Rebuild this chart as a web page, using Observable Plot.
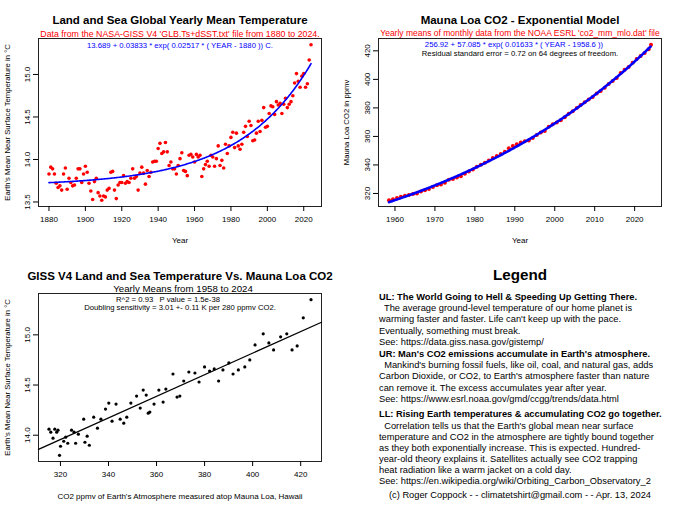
<!DOCTYPE html>
<html>
<head>
<meta charset="utf-8">
<script src="https://cdn.jsdelivr.net/npm/d3@7"></script>
<script src="https://cdn.jsdelivr.net/npm/@observablehq/plot@0.6"></script>
<style>
  html, body { margin: 0; padding: 0; background: #fff; }
  #wrap { position: relative; width: 680px; height: 510px; font-family: "Liberation Sans", Arial, Helvetica, sans-serif; color: #000; }
  .panel { position: absolute; width: 340px; height: 255px; }
  .panel svg { display: block; }
  .ln { position: absolute; left: 39px; white-space: pre; font-size: 9.3px; line-height: 11px; height: 11px; }
  .hd { font-weight: bold; }
  .ctr { left: 0; width: 360px; text-align: center; }
</style>
</head>
<body>
<div id="wrap">
  <div class="panel" id="ul" style="left:0;top:0"></div>
  <div class="panel" id="ur" style="left:340px;top:0"></div>
  <div class="panel" id="ll" style="left:0;top:255px"></div>
  <div class="panel" id="lr" style="left:340px;top:255px"></div>
</div>
<script>
// ---------------- DATA ----------------
// GISS V4 land+sea yearly mean temperature (°C), 1880..2024
const tempFirstYear = 1880;
const tempValues = [
  13.83, 13.91, 13.89, 13.83, 13.72, 13.67, 13.69, 13.64, 13.83, 13.90,
  13.65, 13.78, 13.73, 13.69, 13.70, 13.78, 13.89, 13.89, 13.73, 13.83,
  13.92, 13.85, 13.72, 13.63, 13.53, 13.74, 13.78, 13.61, 13.57, 13.52,
  13.57, 13.56, 13.64, 13.66, 13.85, 13.86, 13.64, 13.54, 13.70, 13.73,
  13.73, 13.81, 13.72, 13.74, 13.73, 13.78, 13.89, 13.78, 13.80, 13.64,
  13.84, 13.91, 13.84, 13.71, 13.87, 13.80, 13.85, 13.97, 13.98, 13.98,
  14.13, 14.19, 14.07, 14.09, 14.20, 14.09, 13.93, 13.97, 13.89, 13.89,
  13.83, 13.93, 14.01, 14.08, 13.87, 13.86, 13.81, 14.05, 14.06, 14.03,
  13.97, 14.06, 14.03, 14.05, 13.80, 13.89, 13.94, 13.98, 13.92, 14.05,
  14.03, 13.92, 14.01, 14.16, 13.93, 13.99, 13.90, 14.18, 14.07, 14.16,
  14.26, 14.32, 14.14, 14.31, 14.16, 14.12, 14.18, 14.32, 14.39, 14.27,
  14.45, 14.40, 14.22, 14.23, 14.31, 14.45, 14.33, 14.46, 14.61, 14.38,
  14.39, 14.54, 14.63, 14.62, 14.53, 14.68, 14.64, 14.66, 14.54, 14.65,
  14.72, 14.61, 14.65, 14.68, 14.75, 14.90, 15.01, 14.92, 14.85, 14.98,
  15.01, 14.85, 14.89, 15.17, 15.35
];
// Mauna Loa CO2 yearly means (ppmv), 1958..2024
const co2FirstYear = 1958;
const co2Values = [
  315.23, 315.98, 316.91, 317.64, 318.45, 318.99, 319.62, 320.04, 321.37, 322.18,
  323.05, 324.62, 325.68, 326.32, 327.46, 329.68, 330.19, 331.12, 332.03, 333.84,
  335.41, 336.84, 338.76, 340.12, 341.48, 343.15, 344.87, 346.35, 347.61, 349.31,
  351.69, 353.20, 354.45, 355.70, 356.54, 357.21, 358.96, 360.97, 362.74, 363.88,
  366.84, 368.54, 369.71, 371.32, 373.45, 375.98, 377.70, 379.98, 382.09, 384.02,
  385.83, 387.64, 390.10, 391.85, 394.06, 396.74, 398.81, 401.01, 404.41, 406.76,
  408.72, 411.65, 414.21, 416.41, 418.53, 421.08, 424.30
];
// Fitted models shown on the chart
const tempFit = { a: 13.689, b: 0.03833, k: 0.02517, t0: 1880 };
const co2Fit = { a: 256.92, b: 57.085, k: 0.01633, t0: 1958.6 };

// Tick labels
const ulXTicks = [1880, 1900, 1920, 1940, 1960, 1980, 2000, 2020];
const ulYTicks = [13.5, 14.0, 14.5, 15.0];
const urXTicks = [1960, 1970, 1980, 1990, 2000, 2010, 2020];
const urYTicks = [320, 340, 360, 380, 400, 420];
const llXTicks = [320, 340, 360, 380, 400, 420];
const llYTicks = [14.0, 14.5, 15.0];

// Texts
const ulTitle = "Land and Sea Global Yearly Mean Temperature";
const ulSub = "Data from the NASA-GISS V4 'GLB.Ts+dSST.txt' file from 1880 to 2024.";
const ulEq = "13.689 + 0.03833 * exp( 0.02517 * ( YEAR - 1880 )) C.";
const urTitle = "Mauna Loa CO2 - Exponential Model";
const urSub = "Yearly means of monthly data from the NOAA ESRL 'co2_mm_mlo.dat' file";
const urEq = "256.92 + 57.085 * exp( 0.01633 * ( YEAR - 1958.6 ))";
const urNote = "Residual standard error = 0.72 on 64 degrees of freedom.";
const llTitle = "GISS V4 Land and Sea Temperature Vs. Mauna Loa CO2";
const llSub = "Yearly Means from 1958 to 2024";
const llStat1 = "R^2 = 0.93\u00a0\u00a0\u00a0P value = 1.5e-38";
const llStat2 = "Doubling sensitivity = 3.01 +- 0.11 K per 280 ppmv CO2.";
const yearLabel = "Year";
const tempLabel = "Earth's Mean Near Surface Temperature in °C";
const co2Label = "Mauna Loa CO2 in ppmv";
const llXLabel = "CO2 ppmv of Earth's Atmosphere measured atop Mauna Loa, Hawaii";

const legendTitle = "Legend";
const legendHeadings = [
  "UL: The World Going to Hell & Speeding Up Getting There.",
  "UR: Man's CO2 emissions accumulate in Earth's atmosphere.",
  "LL: Rising Earth temperatures & accumulating CO2 go together."
];
const legendBodies = [
  ["  The average ground-level temperature of our home planet is",
   "warming faster and faster. Life can't keep up with the pace.",
   "Eventually, something must break.",
   "See: https://data.giss.nasa.gov/gistemp/"],
  ["  Mankind's burning fossil fuels, like oil, coal, and natural gas, adds",
   "Carbon Dioxide, or CO2, to Earth's atmosphere faster than nature",
   "can remove it. The excess accumulates year after year.",
   "See: https://www.esrl.noaa.gov/gmd/ccgg/trends/data.html"],
  ["  Correlation tells us that the Earth's global mean near surface",
   "temperature and CO2 in the atmosphere are tightly bound together",
   "as they both exponentially increase. This is expected. Hundred-",
   "year-old theory explains it. Satellites actually see CO2 trapping",
   "heat radiation like a warm jacket on a cold day.",
   "See: https://en.wikipedia.org/wiki/Orbiting_Carbon_Observatory_2"]
];
const credit = "(c) Roger Coppock - - climatetshirt@gmail.com - - Apr. 13, 2024";

// ---------------- BUILD ----------------
const tempData = tempValues.map((t, i) => ({ year: tempFirstYear + i, temp: t }));
const lastCo2Year = co2FirstYear + co2Values.length - 1;
const co2Data = co2Values.map((c, i) => {
  const y = co2FirstYear + i;
  return { year: y, time: y === lastCo2Year ? y + 0.1 : y + 0.5, co2: c };
});
const tempByYear = new Map(tempData.map(d => [d.year, d.temp]));
const pairData = co2Data.map(d => ({ co2: d.co2, temp: tempByYear.get(d.year) }));

const rExpand = (arr) => { const lo = d3.min(arr), hi = d3.max(arr), r = hi - lo; return [lo - 0.04 * r, hi + 0.04 * r]; };

const tempCurve = d3.range(tempData[0].year, tempData[tempData.length - 1].year + 0.001, 0.5)
  .map(t => ({ x: t, y: tempFit.a + tempFit.b * Math.exp(tempFit.k * (t - tempFit.t0)) }));
const co2Curve = d3.range(co2Data[0].time, co2Data[co2Data.length - 1].time + 0.001, 0.25)
  .map(t => ({ x: t, y: co2Fit.a + co2Fit.b * Math.exp(co2Fit.k * (t - co2Fit.t0)) }));

// least-squares regression of temperature on CO2
const mx = d3.mean(pairData, d => d.co2), my = d3.mean(pairData, d => d.temp);
const slope = d3.sum(pairData, d => (d.co2 - mx) * (d.temp - my)) / d3.sum(pairData, d => (d.co2 - mx) ** 2);
const icpt = my - slope * mx;

const font = "'Liberation Sans', Arial, Helvetica, sans-serif";
const common = {
  width: 340, height: 255,
  marginTop: 38, marginBottom: 49, marginLeft: 38, marginRight: 19,
  style: { fontFamily: font, fontSize: "8px", background: "transparent", color: "#000", overflow: "visible" }
};
const txt = (s, anchor, dy, opts = {}) => Plot.text([s], { text: d => d, frameAnchor: anchor, dy, lineAnchor: "middle", textAnchor: "middle", ...opts });
const ylab = (s, dx) => Plot.text([s], { text: d => d, frameAnchor: "left", rotate: -90, dx, fontSize: 7.7, lineAnchor: "middle", textAnchor: "middle" });
const fmt1 = d3.format(".1f");
const axX = (ticks) => Plot.axisX({ ticks, tickSize: 5, tickPadding: 5, label: null, tickFormat: d3.format("d") });
const axY = (ticks, f) => Plot.axisY({ ticks, tickSize: 5, tickRotate: -90, tickFormat: f, label: null });

const ulPlot = Plot.plot({
  ...common,
  x: { domain: rExpand(tempData.map(d => d.year)) },
  y: { domain: rExpand(tempValues) },
  marks: [
    Plot.frame({ stroke: "#222" }),
    axX(ulXTicks),
    axY(ulYTicks, fmt1),
    Plot.dot(tempData, { x: "year", y: "temp", r: 1.8, fill: "red" }),
    Plot.line(tempCurve, { x: "x", y: "y", stroke: "blue", strokeWidth: 1.6 }),
    txt(ulTitle, "top", -18, { fontSize: 11.5, fontWeight: "bold" }),
    txt(ulSub, "top", -4.8, { fontSize: 8.8, fill: "red" }),
    txt(ulEq, "top", 7, { fontSize: 7.7, fill: "blue" }),
    txt(yearLabel, "bottom", 34, { fontSize: 8 }),
    ylab(tempLabel, -31)
  ]
});

const urPlot = Plot.plot({
  ...common,
  x: { domain: rExpand(co2Data.map(d => d.time)) },
  y: { domain: rExpand(co2Values) },
  marks: [
    Plot.frame({ stroke: "#222" }),
    axX(urXTicks),
    axY(urYTicks, d3.format("d")),
    Plot.dot(co2Data, { x: "time", y: "co2", r: 2, fill: "red" }),
    Plot.line(co2Curve, { x: "x", y: "y", stroke: "blue", strokeWidth: 2.6 }),
    txt(urTitle, "top", -18, { fontSize: 11.5, fontWeight: "bold" }),
    txt(urSub, "top", -4.8, { fontSize: 8.5, fill: "red" }),
    txt(urEq, "top", 6.3, { fontSize: 7.7, fill: "blue", dx: -6 }),
    txt(urNote, "top", 15.3, { fontSize: 7.7 }),
    txt(yearLabel, "bottom", 34, { fontSize: 8 }),
    ylab(co2Label, -31.5)
  ]
});

const llX = rExpand(co2Values);
const llPlot = Plot.plot({
  ...common,
  x: { domain: llX },
  y: { domain: rExpand(pairData.map(d => d.temp)) },
  marks: [
    Plot.frame({ stroke: "#222" }),
    axX(llXTicks),
    axY(llYTicks, fmt1),
    Plot.dot(pairData, { x: "co2", y: "temp", r: 1.6, fill: "black" }),
    Plot.line(llX.map(x => ({ x, y: icpt + slope * x })), { x: "x", y: "y", stroke: "black", strokeWidth: 1.3 }),
    txt(llTitle, "top", -17.3, { fontSize: 11.5, fontWeight: "bold" }),
    txt(llSub, "top", -4.7, { fontSize: 9.7, dx: 3 }),
    txt(llStat1, "top", 5.7, { fontSize: 7.7, dx: -12 }),
    txt(llStat2, "top", 13.7, { fontSize: 7.7 }),
    txt(llXLabel, "bottom", 35, { fontSize: 8 }),
    ylab(tempLabel, -31)
  ]
});

document.getElementById("ul").append(ulPlot);
document.getElementById("ur").append(urPlot);
document.getElementById("ll").append(llPlot);

// Legend panel (text block)
const lr = document.getElementById("lr");
function addLine(s, yCenter, cls) {
  const el = document.createElement("div");
  el.className = "ln " + cls;
  el.textContent = s;
  el.style.top = (yCenter - 5.5) + "px";
  lr.append(el);
  return el;
}
const lt = addLine(legendTitle, 19, "hd ctr");
lt.style.fontSize = "15.2px"; lt.style.lineHeight = "17px"; lt.style.top = (19 - 8.5) + "px";
const headingY = [42, 99, 159.5];
legendHeadings.forEach((h, i) => {
  addLine(h, headingY[i], "hd");
  legendBodies[i].forEach((s, j) => addLine(s, headingY[i] + 11.8 + j * 11.1, ""));
});
addLine(credit, 240.5, "ctr");
</script>
</body>
</html>
